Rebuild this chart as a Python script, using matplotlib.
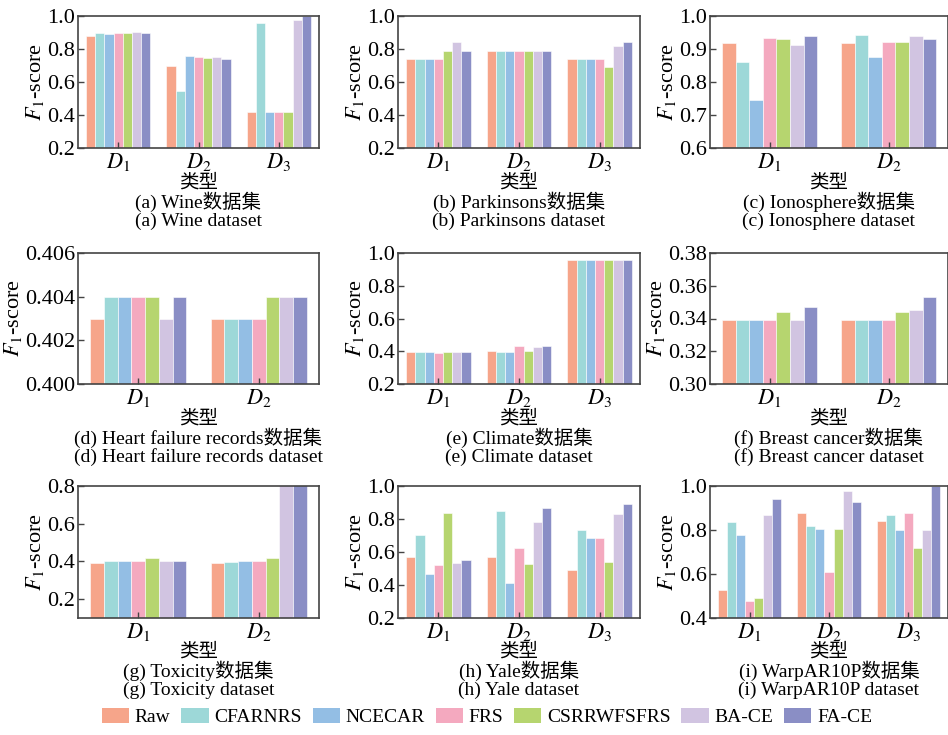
import numpy as np
import matplotlib
matplotlib.use("Agg")
import matplotlib.pyplot as plt
from matplotlib.patches import Patch

plt.rcParams['font.family'] = ['Liberation Serif', 'Noto Sans CJK SC']
plt.rcParams['mathtext.fontset'] = 'stix'

METHODS = ["Raw", "CFARNRS", "NCECAR", "FRS", "CSRRWFSFRS", "BA-CE", "FA-CE"]
COLORS = ["#F6A58A", "#9DD8D8", "#93BEE4", "#F4A9BF", "#B6D56F", "#D1C4E1", "#8A8EC5"]

# rows = methods, cols = D1..Dn
wine = [[0.880, 0.700, 0.420],
        [0.895, 0.545, 0.960],
        [0.890, 0.755, 0.420],
        [0.895, 0.750, 0.420],
        [0.895, 0.745, 0.418],
        [0.905, 0.750, 0.975],
        [0.900, 0.740, 1.000]]
parkinsons = [[0.74, 0.79, 0.74],
              [0.74, 0.79, 0.74],
              [0.74, 0.79, 0.74],
              [0.74, 0.79, 0.74],
              [0.79, 0.79, 0.69],
              [0.84, 0.79, 0.82],
              [0.79, 0.79, 0.84]]
ionosphere = [[0.918, 0.918],
              [0.862, 0.943],
              [0.745, 0.875],
              [0.933, 0.922],
              [0.929, 0.922],
              [0.912, 0.938],
              [0.940, 0.931]]
heart = [[0.403, 0.403],
         [0.404, 0.403],
         [0.404, 0.403],
         [0.404, 0.403],
         [0.404, 0.404],
         [0.403, 0.404],
         [0.404, 0.404]]
climate = [[0.395, 0.400, 0.955],
           [0.395, 0.398, 0.955],
           [0.393, 0.398, 0.955],
           [0.392, 0.435, 0.955],
           [0.395, 0.400, 0.955],
           [0.397, 0.428, 0.955],
           [0.397, 0.430, 0.955]]
breast = [[0.339, 0.339],
          [0.339, 0.339],
          [0.339, 0.339],
          [0.339, 0.339],
          [0.344, 0.344],
          [0.339, 0.345],
          [0.347, 0.353]]
toxicity = [[0.390, 0.390],
            [0.400, 0.397],
            [0.400, 0.400],
            [0.400, 0.400],
            [0.420, 0.420],
            [0.400, 0.950],
            [0.402, 0.960]]
yale = [[0.570, 0.570, 0.490],
        [0.705, 0.850, 0.735],
        [0.465, 0.410, 0.687],
        [0.520, 0.625, 0.687],
        [0.835, 0.530, 0.540],
        [0.535, 0.780, 0.830],
        [0.550, 0.868, 0.892]]
warp = [[0.527, 0.878, 0.840],
        [0.837, 0.820, 0.867],
        [0.776, 0.806, 0.800],
        [0.478, 0.611, 0.878],
        [0.493, 0.806, 0.716],
        [0.867, 0.977, 0.800],
        [0.939, 0.927, 1.000]]

panels = [
    ("(a) Wine", wine, (0.2, 1.0), [0.2, 0.4, 0.6, 0.8, 1.0], "%.1f"),
    ("(b) Parkinsons", parkinsons, (0.2, 1.0), [0.2, 0.4, 0.6, 0.8, 1.0], "%.1f"),
    ("(c) Ionosphere", ionosphere, (0.6, 1.0), [0.6, 0.7, 0.8, 0.9, 1.0], "%.1f"),
    ("(d) Heart failure records", heart, (0.400, 0.406), [0.400, 0.402, 0.404, 0.406], "%.3f"),
    ("(e) Climate", climate, (0.2, 1.0), [0.2, 0.4, 0.6, 0.8, 1.0], "%.1f"),
    ("(f) Breast cancer", breast, (0.30, 0.38), [0.30, 0.32, 0.34, 0.36, 0.38], "%.2f"),
    ("(g) Toxicity", toxicity, (0.1, 0.8), [0.2, 0.4, 0.6, 0.8], "%.1f"),
    ("(h) Yale", yale, (0.2, 1.0), [0.2, 0.4, 0.6, 0.8, 1.0], "%.1f"),
    ("(i) WarpAR10P", warp, (0.4, 1.0), [0.4, 0.6, 0.8, 1.0], "%.1f"),
]

W, H = 948, 735
fig = plt.figure(figsize=(W / 100, H / 100), dpi=100)

col_px = [(78, 241), (398, 242), (710, 238)]
row_px = [(16, 132, 183), (253, 131, 419), (486, 132, 652)]

for i, (name, data, ylim, yticks, fmt) in enumerate(panels):
    r, c = divmod(i, 3)
    left, width = col_px[c]
    top, height, ylab_y = row_px[r]
    ax = fig.add_axes([left / W, 1 - (top + height) / H, width / W, height / H])
    data = np.array(data)
    n_groups = data.shape[1]
    x = np.arange(n_groups)
    bw = 0.8 / len(METHODS)
    for k in range(len(METHODS)):
        ax.bar(x - 0.4 + bw * (k + 0.5), data[k], bw, color=COLORS[k],
               edgecolor="white", linewidth=0.4)
    ax.set_xlim(-0.5, n_groups - 0.5)
    ax.set_ylim(*ylim)
    ax.set_yticks(yticks)
    ax.set_yticklabels([fmt % t for t in yticks])
    ax.set_xticks(x)
    ax.set_xticklabels([f"$D_{j + 1}$" for j in range(n_groups)])
    ax.tick_params(direction="in", length=4, width=1, color="#444444",
                   labelsize=16, pad=2)
    ax.tick_params(axis="x", labelsize=16, pad=2)
    for s in ax.spines.values():
        s.set_color("#444444")
        s.set_linewidth(1.2)
    ax.set_ylabel("$F_1$-score", fontsize=16, labelpad=1)
    cx = (left + width / 2) / W
    fig.text(cx, 1 - ylab_y / H, "类型", ha="center", va="center", fontsize=14)
    fig.text(cx, 1 - (ylab_y + 19) / H, name + "数据集", ha="center", va="center", fontsize=14)
    fig.text(cx, 1 - (ylab_y + 38) / H, name + " dataset", ha="center", va="center", fontsize=14)

handles = [Patch(facecolor=COLORS[k], edgecolor="none", label=METHODS[k]) for k in range(len(METHODS))]
fig.legend(handles=handles, loc="center", bbox_to_anchor=(487 / W, 1 - 717 / H),
           ncol=7, frameon=False, fontsize=14, handlelength=1.4, handleheight=0.8,
           handletextpad=0.3, columnspacing=0.55, borderpad=0)

fig.savefig("out.png", dpi=100)
